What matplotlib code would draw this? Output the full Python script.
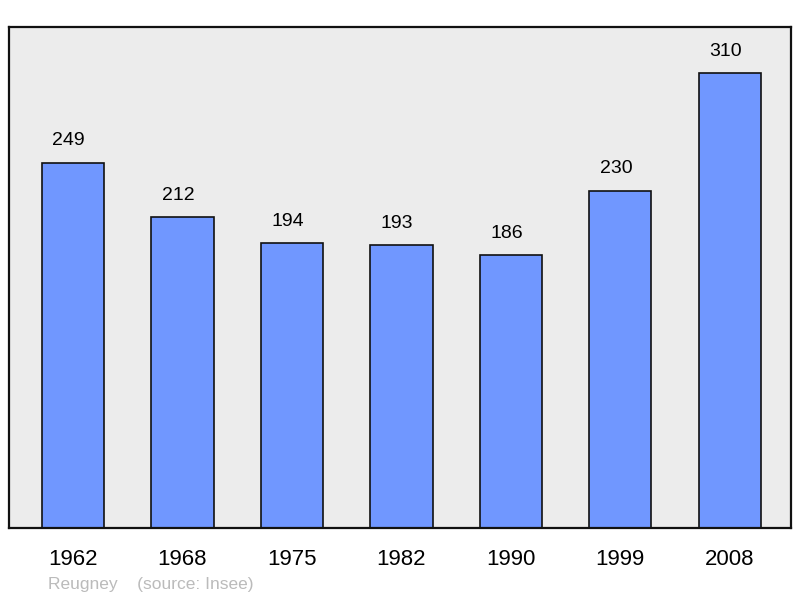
import matplotlib.pyplot as plt

years = ["1962", "1968", "1975", "1982", "1990", "1999", "2008"]
population = [249, 212, 194, 193, 186, 230, 310]

plt.rcParams['font.family'] = ['Liberation Sans', 'DejaVu Sans']

fig = plt.figure(figsize=(8, 5.98), dpi=100)
ax = fig.add_axes([9/800, 1 - 528/598, 782/800, 501/598])
ax.set_facecolor('#ececec')

x = list(range(len(years)))
ax.bar(x, population, width=0.57, color='#7097ff', edgecolor='#111111', linewidth=1.2, zorder=2)
for xi, v in zip(x, population):
    ax.text(xi - 0.04, v + 9, str(v), ha='center', va='bottom', fontsize=14)

ax.set_xlim(-0.585, 6.56)
ax.set_ylim(0, 341.5)
ax.set_xticks(x)
ax.set_xticklabels(years, fontsize=16)
ax.tick_params(axis='x', length=0, pad=15)
ax.set_yticks([])
for s in ax.spines.values():
    s.set_linewidth(1.6)
    s.set_color('#111111')

fig.text(48/800, 1 - 584/598, "Reugney    (source: Insee)", fontsize=12.5, color='#bbbbbb', va='center')

fig.savefig("out.png", dpi=100)
